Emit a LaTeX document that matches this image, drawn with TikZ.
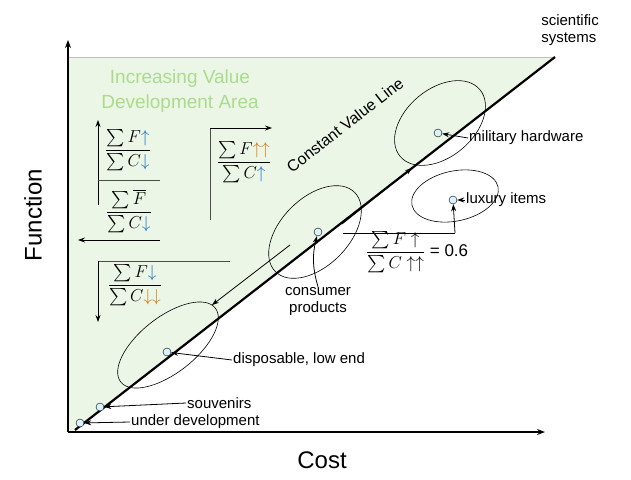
\documentclass[tikz,border=0pt]{standalone}
\usepackage{amsmath}
\usepackage{fontspec}
\setmainfont{Liberation Sans}
\usetikzlibrary{arrows.meta}
\definecolor{bgreen}{RGB}{235,246,230}
\definecolor{tgreen}{RGB}{170,220,140}
\definecolor{ablue}{RGB}{30,110,200}
\definecolor{aorange}{RGB}{210,120,20}
\tikzset{
  lbl/.style={font=\fontsize{15}{17}\selectfont, inner sep=1pt},
  ax/.style={line width=1.2pt,-{Stealth[length=8pt,width=6pt]}},
  ptr/.style={line width=0.8pt,-{Stealth[length=7pt,width=5pt]}},
  dot/.style={circle,draw,fill=cyan!15,minimum size=8pt,inner sep=0pt},
  ell/.style={draw,line width=0.6pt},
  frm/.style={font=\fontsize{17}{19}\selectfont, inner sep=1pt},
}
\newcommand{\bu}{\textcolor{ablue}{\uparrow}}
\newcommand{\bd}{\textcolor{ablue}{\downarrow}}
\newcommand{\ou}{\textcolor{aorange}{\uparrow\uparrow}}
\newcommand{\od}{\textcolor{aorange}{\downarrow\downarrow}}
\begin{document}
\begin{tikzpicture}[x=1pt,y=-1pt]
\useasboundingbox (0,0) rectangle (631,479);
\fill[bgreen] (68,57) -- (555,57) -- (75,430) -- (68,432) -- cycle;
\draw[gray!50,line width=0.4pt] (68,57) -- (555,57);
% axes
\coordinate (o) at (68,432);
\coordinate (ytop) at (68,40);
\coordinate (xend) at (545,432);
\draw[ax] (o) -- (ytop);
\draw[ax] (o) -- (xend);
% diagonal
\coordinate (d0) at (75,430);
\coordinate (d1) at (555,57);
\draw[line width=2.2pt] (d0) -- (d1);
\node[lbl,align=left] (sci) at (570,30) {scientific\\systems};
% ellipses
\draw[ell,rotate around={38:(168,345)}] (168,345) ellipse (60 and 28);
\draw[ell,rotate around={45:(315,232)}] (315,232) ellipse (56 and 34);
\draw[ell,rotate around={40:(440,123)}] (440,123) ellipse (52 and 34);
\draw[ell,rotate around={12:(455,196)}] (455,196) ellipse (44 and 25);
% points
\node[dot] (pu) at (80,423) {};
\node[dot] (ps) at (100,407) {};
\node[dot] (pd) at (167,352) {};
\node[dot] (pc) at (318,232) {};
\node[dot] (pm) at (438,133) {};
\node[dot] (pl) at (453,200) {};
% labels
\node[lbl,anchor=west] (lm) at (468,138) {military hardware};
\node[lbl,anchor=west] (ll) at (465,200) {luxury items};
\node[lbl,align=center] (lc) at (318,302) {consumer\\products};
\node[lbl,anchor=west] (ld) at (232,360) {disposable, low end};
\node[lbl,anchor=west] (ls) at (186,403) {souvenirs};
\node[lbl,anchor=west] (lu) at (130,422) {under development};
\draw[ptr] (lm.west) -- (pm);
\draw[ptr] (ll.west) -- (pl);
\draw[ptr] (lc.north) to[bend left=15] (pc);
\draw[ptr] (ld.west) -- (pd);
\draw[ptr] (ls.west) -- (ps);
\draw[ptr] (lu.west) -- (pu);
% luxury formula
\node[frm,anchor=west] (fl) at (365,252) {$\dfrac{\sum F\uparrow}{\sum C\uparrow\uparrow}$ = 0.6};
\coordinate (fl1) at (343,233);
\coordinate (fl2) at (455,233);
\draw[line width=0.8pt] (fl1) -- (fl2);
\draw[ptr] (fl2) -- (pl);
% parallel arrows
\coordinate (a1) at (290,245); \coordinate (a2) at (212,305);
\coordinate (b1) at (342,224); \coordinate (b2) at (412,168);
\draw[ptr] (a1) -- (a2);
\draw[ptr] (b1) -- (b2);
\node[lbl,rotate=38,font=\fontsize{16}{18}\selectfont] (cvl) at (345,125) {Constant Value Line};
% green text
\node[align=center,text=tgreen,font=\fontsize{19}{25}\selectfont] (inc) at (180,91) {Increasing Value\\Development Area};
% quadrant formulas
\coordinate (q1a) at (98,205); \coordinate (q1b) at (98,120); \coordinate (q1c) at (160,180);
\draw[ptr] (q1a) -- (q1b);
\draw[line width=0.8pt,gray!60!black] (98,180) -- (q1c);
\node[frm] (f1) at (128,150) {$\dfrac{\sum F\bu}{\sum C\bd}$};
\coordinate (q2a) at (210,220); \coordinate (q2b) at (272,128);
\draw[line width=0.8pt,gray!60!black] (q2a) -- (210,128);
\draw[ptr] (210,128) -- (q2b);
\node[frm] (f2) at (244,162) {$\dfrac{\sum F\ou}{\sum C\bu}$};
\coordinate (q3a) at (160,240); \coordinate (q3b) at (78,240);
\draw[ptr] (q3a) -- (q3b);
\node[frm] (f3) at (129,211) {$\dfrac{\sum \overline{F}}{\sum C\bd}$};
\coordinate (q4a) at (230,261); \coordinate (q4b) at (98,322);
\draw[line width=0.8pt,gray!60!black] (q4a) -- (98,261);
\draw[ptr] (98,261) -- (q4b);
\node[frm] (f4) at (135,285) {$\dfrac{\sum F\bd}{\sum C\od}$};
% axis labels
\node[font=\fontsize{24}{26}\selectfont,rotate=90] (fn) at (33,215) {Function};
\node[font=\fontsize{24}{26}\selectfont] (cost) at (322,460) {Cost};
\end{tikzpicture}
\end{document}
